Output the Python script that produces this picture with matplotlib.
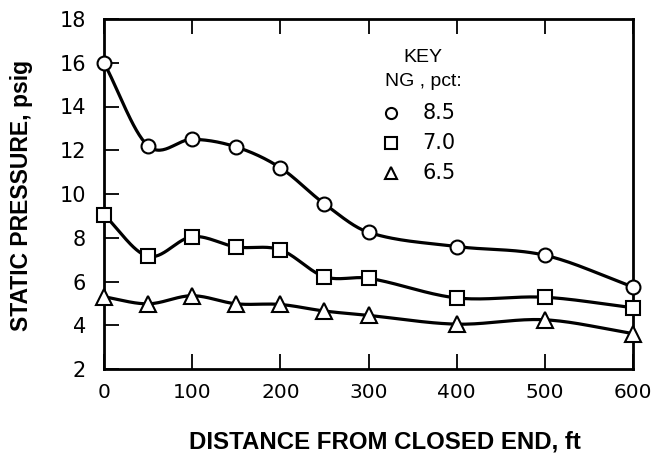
import numpy as np
import matplotlib
matplotlib.use("Agg")
import matplotlib.pyplot as plt

# Distance from closed end (ft) and static pressure (psig) for each NG level
distance_ft = [0, 50, 100, 150, 200, 250, 300, 400, 500, 600]
pressure_ng_85 = [16.0, 12.2, 12.5, 12.15, 11.2, 9.55, 8.25, 7.6, 7.2, 5.75]
pressure_ng_70 = [9.05, 7.15, 8.05, 7.58, 7.45, 6.22, 6.15, 5.25, 5.28, 4.8]
pressure_ng_65 = [5.3, 4.98, 5.35, 4.98, 4.95, 4.65, 4.45, 4.05, 4.25, 3.62]

ng_labels = ["8.5", "7.0", "6.5"]
x_ticks = [0, 100, 200, 300, 400, 500, 600]
y_ticks = [2, 4, 6, 8, 10, 12, 14, 16, 18]

plt.rcParams["font.family"] = ["Liberation Sans", "DejaVu Sans"]


def smooth_curve(x, y, n=30):
    """Cubic Hermite curve through the points with finite-difference slopes."""
    x = np.asarray(x, float)
    y = np.asarray(y, float)
    m = np.zeros_like(y)
    m[1:-1] = (y[2:] - y[:-2]) / (x[2:] - x[:-2])
    m[0] = (y[1] - y[0]) / (x[1] - x[0])
    m[-1] = (y[-1] - y[-2]) / (x[-1] - x[-2])
    xs, ys = [], []
    for i in range(len(x) - 1):
        h = x[i + 1] - x[i]
        t = np.linspace(0, 1, n, endpoint=(i == len(x) - 2))
        h00 = 2 * t**3 - 3 * t**2 + 1
        h10 = t**3 - 2 * t**2 + t
        h01 = -2 * t**3 + 3 * t**2
        h11 = t**3 - t**2
        xs.append(x[i] + t * h)
        ys.append(h00 * y[i] + h10 * h * m[i] + h01 * y[i + 1] + h11 * h * m[i + 1])
    return np.concatenate(xs), np.concatenate(ys)


fig = plt.figure(figsize=(6.59, 4.54), dpi=100)
ax = fig.add_axes([104 / 659, 1 - 369 / 454, 529 / 659, 350 / 454])

series = [
    (pressure_ng_85, "o"),
    (pressure_ng_70, "s"),
    (pressure_ng_65, "^"),
]
for values, marker in series:
    cx, cy = smooth_curve(distance_ft, values)
    ax.plot(cx, cy, color="black", lw=2.3, solid_capstyle="round", zorder=2, clip_on=False)
    ms = 10 if marker != "^" else 11
    ax.plot(distance_ft, values, linestyle="none", marker=marker, ms=ms,
            mfc="white", mec="black", mew=1.5, zorder=3, clip_on=False)

ax.set_xlim(0, 600)
ax.set_ylim(2, 18)
ax.set_xticks(x_ticks)
ax.set_yticks(y_ticks)
ax.set_xticklabels([str(v) for v in x_ticks], fontsize=14.5, family=["DejaVu Sans"])
ax.set_yticklabels([str(v) for v in y_ticks], fontsize=15, family=["DejaVu Sans"])
ax.tick_params(axis="x", direction="in", length=11, width=1.3, pad=10, top=True)
ax.tick_params(axis="y", direction="in", length=11, width=1.3, pad=13, right=False)
for sp in ax.spines.values():
    sp.set_linewidth(2)

fig.text(385 / 659, 1 - 448 / 454, "DISTANCE FROM CLOSED END, ft", fontsize=17.3,
         fontweight="bold", ha="center", va="baseline")
fig.text(22 / 659, 1 - 195 / 454, "STATIC PRESSURE, psig", fontsize=16.5,
         fontweight="bold", rotation=90, ha="center", va="center")

# Key block
ax.text(339, 16.26, "KEY", fontsize=14, ha="left", va="center")
ax.text(319, 15.12, "NG , pct:", fontsize=14, ha="left", va="center")
key_rows = [(13.7, "o"), (12.33, "s"), (10.96, "^")]
for (ky, marker), label in zip(key_rows, ng_labels):
    ax.plot([326], [ky], marker=marker, ms=8, mfc="white", mec="black", mew=1.5,
            linestyle="none")
    ax.text(361, ky, label, fontsize=15, family=["DejaVu Sans"], ha="left", va="center")

fig.savefig("out.png", dpi=100)
